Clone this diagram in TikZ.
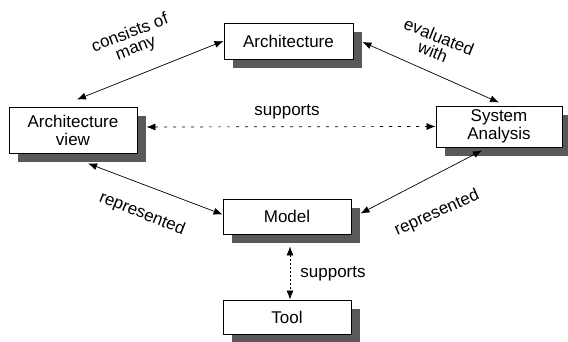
\documentclass[tikz,border=0pt]{standalone}
\usepackage{fontspec}
\setmainfont{Liberation Sans}
\usetikzlibrary{arrows.meta,shadows}
\begin{document}
\begin{tikzpicture}[x=1pt,y=-1pt,
  box/.style={draw, line width=0.9pt, fill=white, inner sep=0pt, align=center,
    font=\fontsize{17}{18}\selectfont,
    drop shadow={shadow xshift=9pt, shadow yshift=-9pt, fill=black!65, opacity=1}},
  lbl/.style={font=\fontsize{17}{16}\selectfont, align=center, inner sep=0pt},
  link/.style={line width=0.7pt, {Latex[length=9pt,width=7pt]}-{Latex[length=9pt,width=7pt]}},
  dlink/.style={link, dash pattern=on 3pt off 6pt}
]
\useasboundingbox (0,0) rectangle (568,342);
\node[box, minimum width=129pt, minimum height=36pt] (arch) at (288.5,41) {Architecture};
\node[box, minimum width=128pt, minimum height=46pt] (view) at (73,130) {Architecture\\view};
\node[box, minimum width=126pt, minimum height=41pt] (sys) at (499,126.5) {System\\Analysis};
\node[box, minimum width=128pt, minimum height=35pt] (model) at (287,216.5) {Model};
\node[box, minimum width=128pt, minimum height=34pt] (tool) at (287,317) {Tool};

\draw[link] ([xshift=4pt,yshift=7pt]view.north) -- (arch.west);
\draw[link] ([xshift=9pt,yshift=-1pt]arch.east) -- ([yshift=3pt]sys.north);
\draw[dlink] ([xshift=9pt,yshift=3pt]view.east) -- ([yshift=0pt]sys.west);
\draw[link] ([xshift=15pt,yshift=-10pt]view.south) -- ([yshift=2pt]model.west);
\draw[link] ([xshift=-17pt,yshift=-3pt]sys.south) -- ([xshift=9pt,yshift=3pt]model.east);
\draw[link, dash pattern=on 2pt off 2pt] ([xshift=3pt,yshift=-12pt]model.south) -- ([xshift=3pt]tool.north);

\node[lbl, rotate=21] (l1) at (133,41) {consists of\\many};
\node[lbl, rotate=-22] (l2) at (436,44) {evaluated\\with};
\node[lbl] (l3) at (287,112) {supports};
\node[lbl, rotate=-22] (l4) at (142,214) {represented};
\node[lbl, rotate=24] (l5) at (437,213) {represented};
\node[lbl] (l6) at (333,274) {supports};
\end{tikzpicture}
\end{document}
